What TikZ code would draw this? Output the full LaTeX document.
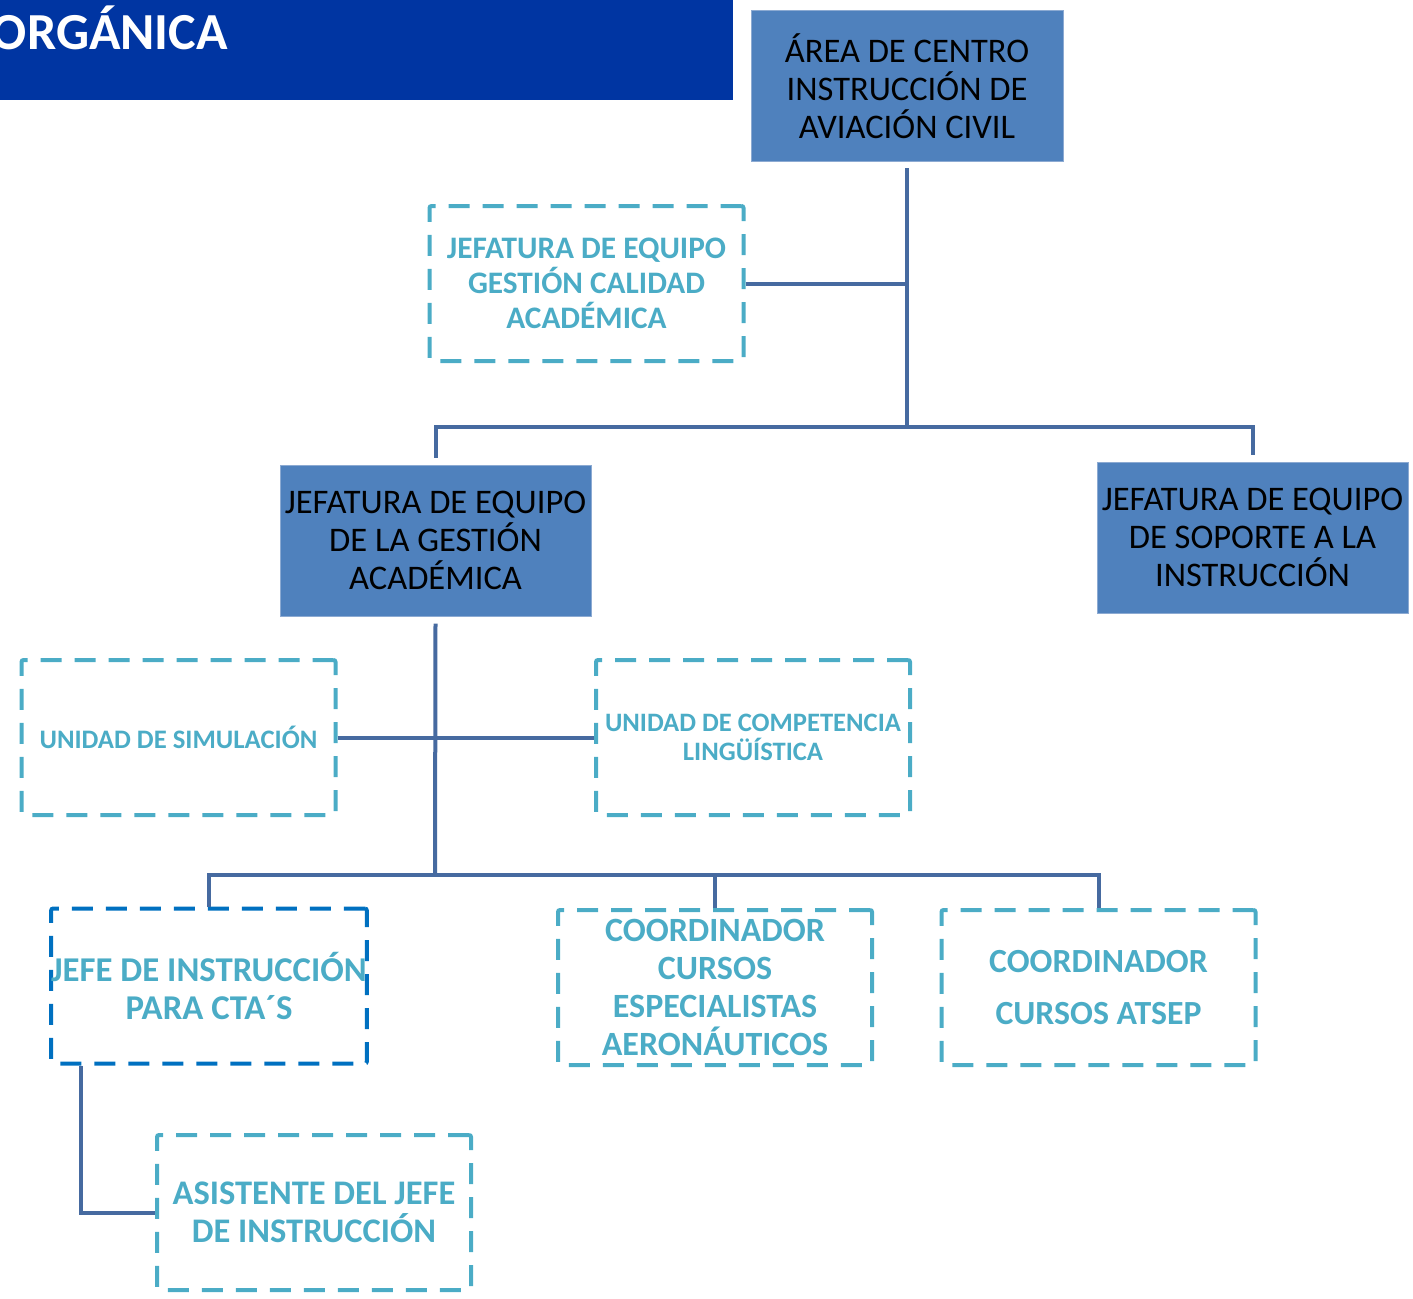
\documentclass[tikz,border=0pt]{standalone}
\usepackage{fontspec}
\setmainfont{Carlito}
\definecolor{banner}{RGB}{0,53,162}
\definecolor{boxfill}{RGB}{79,129,189}
\definecolor{boxedge}{RGB}{140,170,210}
\definecolor{conncol}{RGB}{70,106,160}
\definecolor{dashc}{RGB}{75,172,198}
\definecolor{darkdash}{RGB}{0,112,192}
\tikzset{
  solidbox/.style={draw=boxedge, line width=1pt, fill=boxfill, inner sep=0pt,
    minimum width=311pt, minimum height=151pt, align=center, text=black,
    font=\fontsize{34.5}{38}\selectfont},
  dashbox/.style={draw=dashc, line width=4pt, dash pattern=on 21pt off 13pt,
    rounded corners=2pt, inner sep=0pt, minimum width=314pt, minimum height=155pt,
    align=center, text=dashc, font=\bfseries\fontsize{31.3}{35}\selectfont},
  conn/.style={draw=conncol, line width=4pt}
}
\begin{document}
\begin{tikzpicture}[x=1pt,y=-1pt]
\useasboundingbox (0,0) rectangle (1413,1298);
% banner
\node[fill=banner, anchor=north west, inner sep=0pt, minimum width=733pt, minimum height=100pt] (banner) at (0,0) {};
\begin{scope}
\clip (0,0) rectangle (733,100);
\node[anchor=base east, inner sep=0pt, text=white, font=\bfseries\fontsize{52}{60}\selectfont] (title) at (228,50) {ORGÁNICA};
\end{scope}
% solid boxes
\node[solidbox, minimum width=312pt] (top) at (907,86) {ÁREA DE CENTRO\\INSTRUCCIÓN DE\\AVIACIÓN CIVIL};
\node[solidbox] (gest) at (435.5,540.5) {JEFATURA DE EQUIPO\\DE LA GESTIÓN\\ACADÉMICA};
\node[solidbox] (sop) at (1252.5,537.5) {JEFATURA DE EQUIPO\\DE SOPORTE A LA\\INSTRUCCIÓN};
% dashed boxes
\node[dashbox] (cal) at (586.5,283.5) {JEFATURA DE EQUIPO\\GESTIÓN CALIDAD\\ACADÉMICA};
\node[dashbox, font=\bfseries\fontsize{26.7}{29}\selectfont] (sim) at (178.5,737.5) {UNIDAD DE SIMULACIÓN};
\node[dashbox, font=\bfseries\fontsize{26.6}{29}\selectfont] (ling) at (753,737.5) {UNIDAD DE COMPETENCIA\\LINGÜÍSTICA};
\node[dashbox, draw=darkdash, font=\bfseries\fontsize{34.8}{38}\selectfont] (jefe) at (209,986) {JEFE DE INSTRUCCIÓN\\PARA CTA´S};
\node[dashbox, font=\bfseries\fontsize{34}{38}\selectfont] (coord) at (715,987.5) {COORDINADOR\\CURSOS\\ESPECIALISTAS\\AERONÁUTICOS};
\node[dashbox, font=\bfseries\fontsize{33.8}{52}\selectfont] (atsep) at (1098.5,987.5) {COORDINADOR\\CURSOS ATSEP};
\node[dashbox, font=\bfseries\fontsize{34.5}{38}\selectfont] (asis) at (314,1212.5) {ASISTENTE DEL JEFE\\DE INSTRUCCIÓN};
% junctions
\coordinate (j1) at (907,427);
\coordinate (j2) at (435,875);
% connectors
\draw[conn] ([yshift=-6pt]top.south) -- (j1);
\draw[conn] (cal.east) -- (cal.east -| j1);
\draw[conn] ([yshift=7pt]gest.north) |- (j1) -| ([yshift=7pt]sop.north);
\draw[conn] ([yshift=-7pt]gest.south) -- (j2);
\draw[conn] (sim.east) -- (ling.west);
\draw[conn] (jefe.north) |- (j2) -| (atsep.north);
\draw[conn] (j2) -| (coord.north);
\draw[conn] ([xshift=32pt]jefe.south west) |- (asis.west);
\end{tikzpicture}
\end{document}
